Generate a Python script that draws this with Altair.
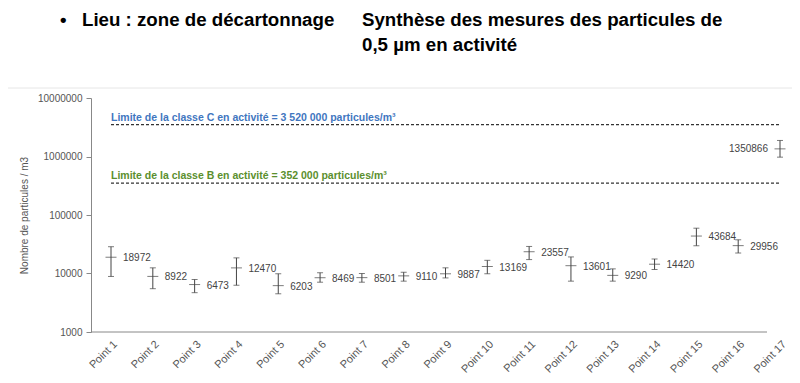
import altair as alt
import pandas as pd

# ---- data ----
points = [f"Point {i}" for i in range(1, 18)]
values = [18972, 8922, 6473, 12470, 6203, 8469, 8501, 9110, 9887, 13169,
          23557, 13601, 9290, 14420, 43684, 29956, 1350866]
err_low = [8900, 5500, 4700, 6300, 4500, 7100, 7100, 7400, 8400, 9900,
           17300, 7400, 7400, 11700, 29800, 22400, 975000]
err_high = [28700, 12500, 7900, 18500, 9900, 10300, 10000, 10500, 12500, 16800,
            29000, 19200, 12000, 17700, 59500, 37700, 1880000]
label_side = ["right"] * 16 + ["left"]

limit_values = [3520000, 352000]
limit_labels = ["Limite de la classe C en activité = 3 520 000 particules/m³",
                "Limite de la classe B en activité = 352 000 particules/m³"]
limit_colors = ["#3f76c0", "#5b8f2e"]

y_ticks = [1000, 10000, 100000, 1000000, 10000000]

title_left = "Lieu : zone de décartonnage"
title_right_1 = "Synthèse des mesures des particules de"
title_right_2 = "0,5 µm en activité"
y_title = "Nombre de particules / m3"

FONT = "Liberation Sans"
W, H = 676, 234

df = pd.DataFrame({"point": points, "value": values, "lo": err_low,
                   "hi": err_high, "side": label_side})
lim = pd.DataFrame({"v": limit_values, "label": limit_labels})
one = pd.DataFrame({"k": [0]})

xscale = alt.Scale(type="point", domain=points, range=[20, 689], padding=0)
yscale = alt.Scale(type="log", domain=[1000, 10000000], nice=False)

xaxis = alt.Axis(labelAngle=-45, domain=False, ticks=False, labelColor="#555",
                 labelFontSize=11, labelFont=FONT, labelPadding=6, labelOverlap=False,
                 title=None)
yaxis = alt.Axis(values=y_ticks, format="d", grid=False, domainColor="#888",
                 tickColor="#888", tickSize=5, labelColor="#555", labelFontSize=10,
                 labelFont=FONT, labelPadding=4, titleFont=FONT, titleFontSize=10,
                 titleColor="#555", titleFontWeight="normal", titlePadding=8)


def X():
    return alt.X("point:N", scale=xscale, axis=xaxis, title=None)


def Y(field):
    return alt.Y(field, scale=yscale, axis=yaxis, title=y_title)


base = alt.Chart(df)

frame = alt.Chart(one).mark_rect(fillOpacity=0, stroke="#e6e6e6", strokeWidth=1).encode(
    x=alt.value(-86), x2=alt.value(704), y=alt.value(-10), y2=alt.value(280))

xline = alt.Chart(one).mark_rule(color="#888", strokeWidth=1).encode(
    x=alt.value(0), x2=alt.value(W), y=alt.value(H))

bars = base.mark_rule(color="#444", strokeWidth=1).encode(x=X(), y=Y("lo:Q"), y2="hi:Q")
cap_lo = base.mark_tick(color="#444", size=6, thickness=1).encode(x=X(), y=Y("lo:Q"))
cap_hi = base.mark_tick(color="#444", size=6, thickness=1).encode(x=X(), y=Y("hi:Q"))
cross = base.mark_tick(color="#444", size=11, thickness=1).encode(x=X(), y=Y("value:Q"))

lab_r = base.transform_filter(alt.datum.side == "right").mark_text(
    align="left", baseline="middle", dx=12, dy=1, fontSize=10, font=FONT, color="#444"
).encode(x=X(), y=Y("value:Q"), text=alt.Text("value:Q", format="d"))
lab_l = base.transform_filter(alt.datum.side == "left").mark_text(
    align="right", baseline="middle", dx=-12, dy=0, fontSize=10, font=FONT, color="#444"
).encode(x=X(), y=Y("value:Q"), text=alt.Text("value:Q", format="d"))

lim_rules = alt.Chart(lim).mark_rule(strokeDash=[3, 2], color="#333", strokeWidth=1.3).encode(
    y=Y("v:Q"), x=alt.value(20), x2=alt.value(689))
lim_text = alt.Chart(lim).mark_text(
    align="left", baseline="alphabetic", dy=-4, fontSize=10.5, fontWeight="bold", font=FONT
).encode(
    y=Y("v:Q"), x=alt.value(20), text="label:N",
    color=alt.Color("label:N", scale=alt.Scale(domain=limit_labels, range=limit_colors),
                    legend=None))

tfont = dict(font=FONT, fontSize=18.7, fontWeight="bold", color="#000",
             baseline="middle", align="left")
t_bullet = alt.Chart(one).mark_text(text="•", **tfont).encode(
    x=alt.value(-31), y=alt.value(-78))
t_left = alt.Chart(one).mark_text(text=title_left, **tfont).encode(
    x=alt.value(-9), y=alt.value(-78))
t_r1 = alt.Chart(one).mark_text(text=title_right_1, **tfont).encode(
    x=alt.value(271), y=alt.value(-78))
t_r2 = alt.Chart(one).mark_text(text=title_right_2, **tfont).encode(
    x=alt.value(271), y=alt.value(-53))

chart = alt.layer(
    frame, xline, lim_rules, lim_text, bars, cap_lo, cap_hi, cross, lab_r, lab_l,
    t_bullet, t_left, t_r1, t_r2
).properties(
    width=W, height=H,
    autosize=alt.AutoSizeParams(type="none"),
    padding={"left": 83, "top": 90, "right": 25, "bottom": 42},
    background="white",
).configure_view(stroke=None)

chart.save("out.html", embed_options={"renderer": "svg", "actions": False})
